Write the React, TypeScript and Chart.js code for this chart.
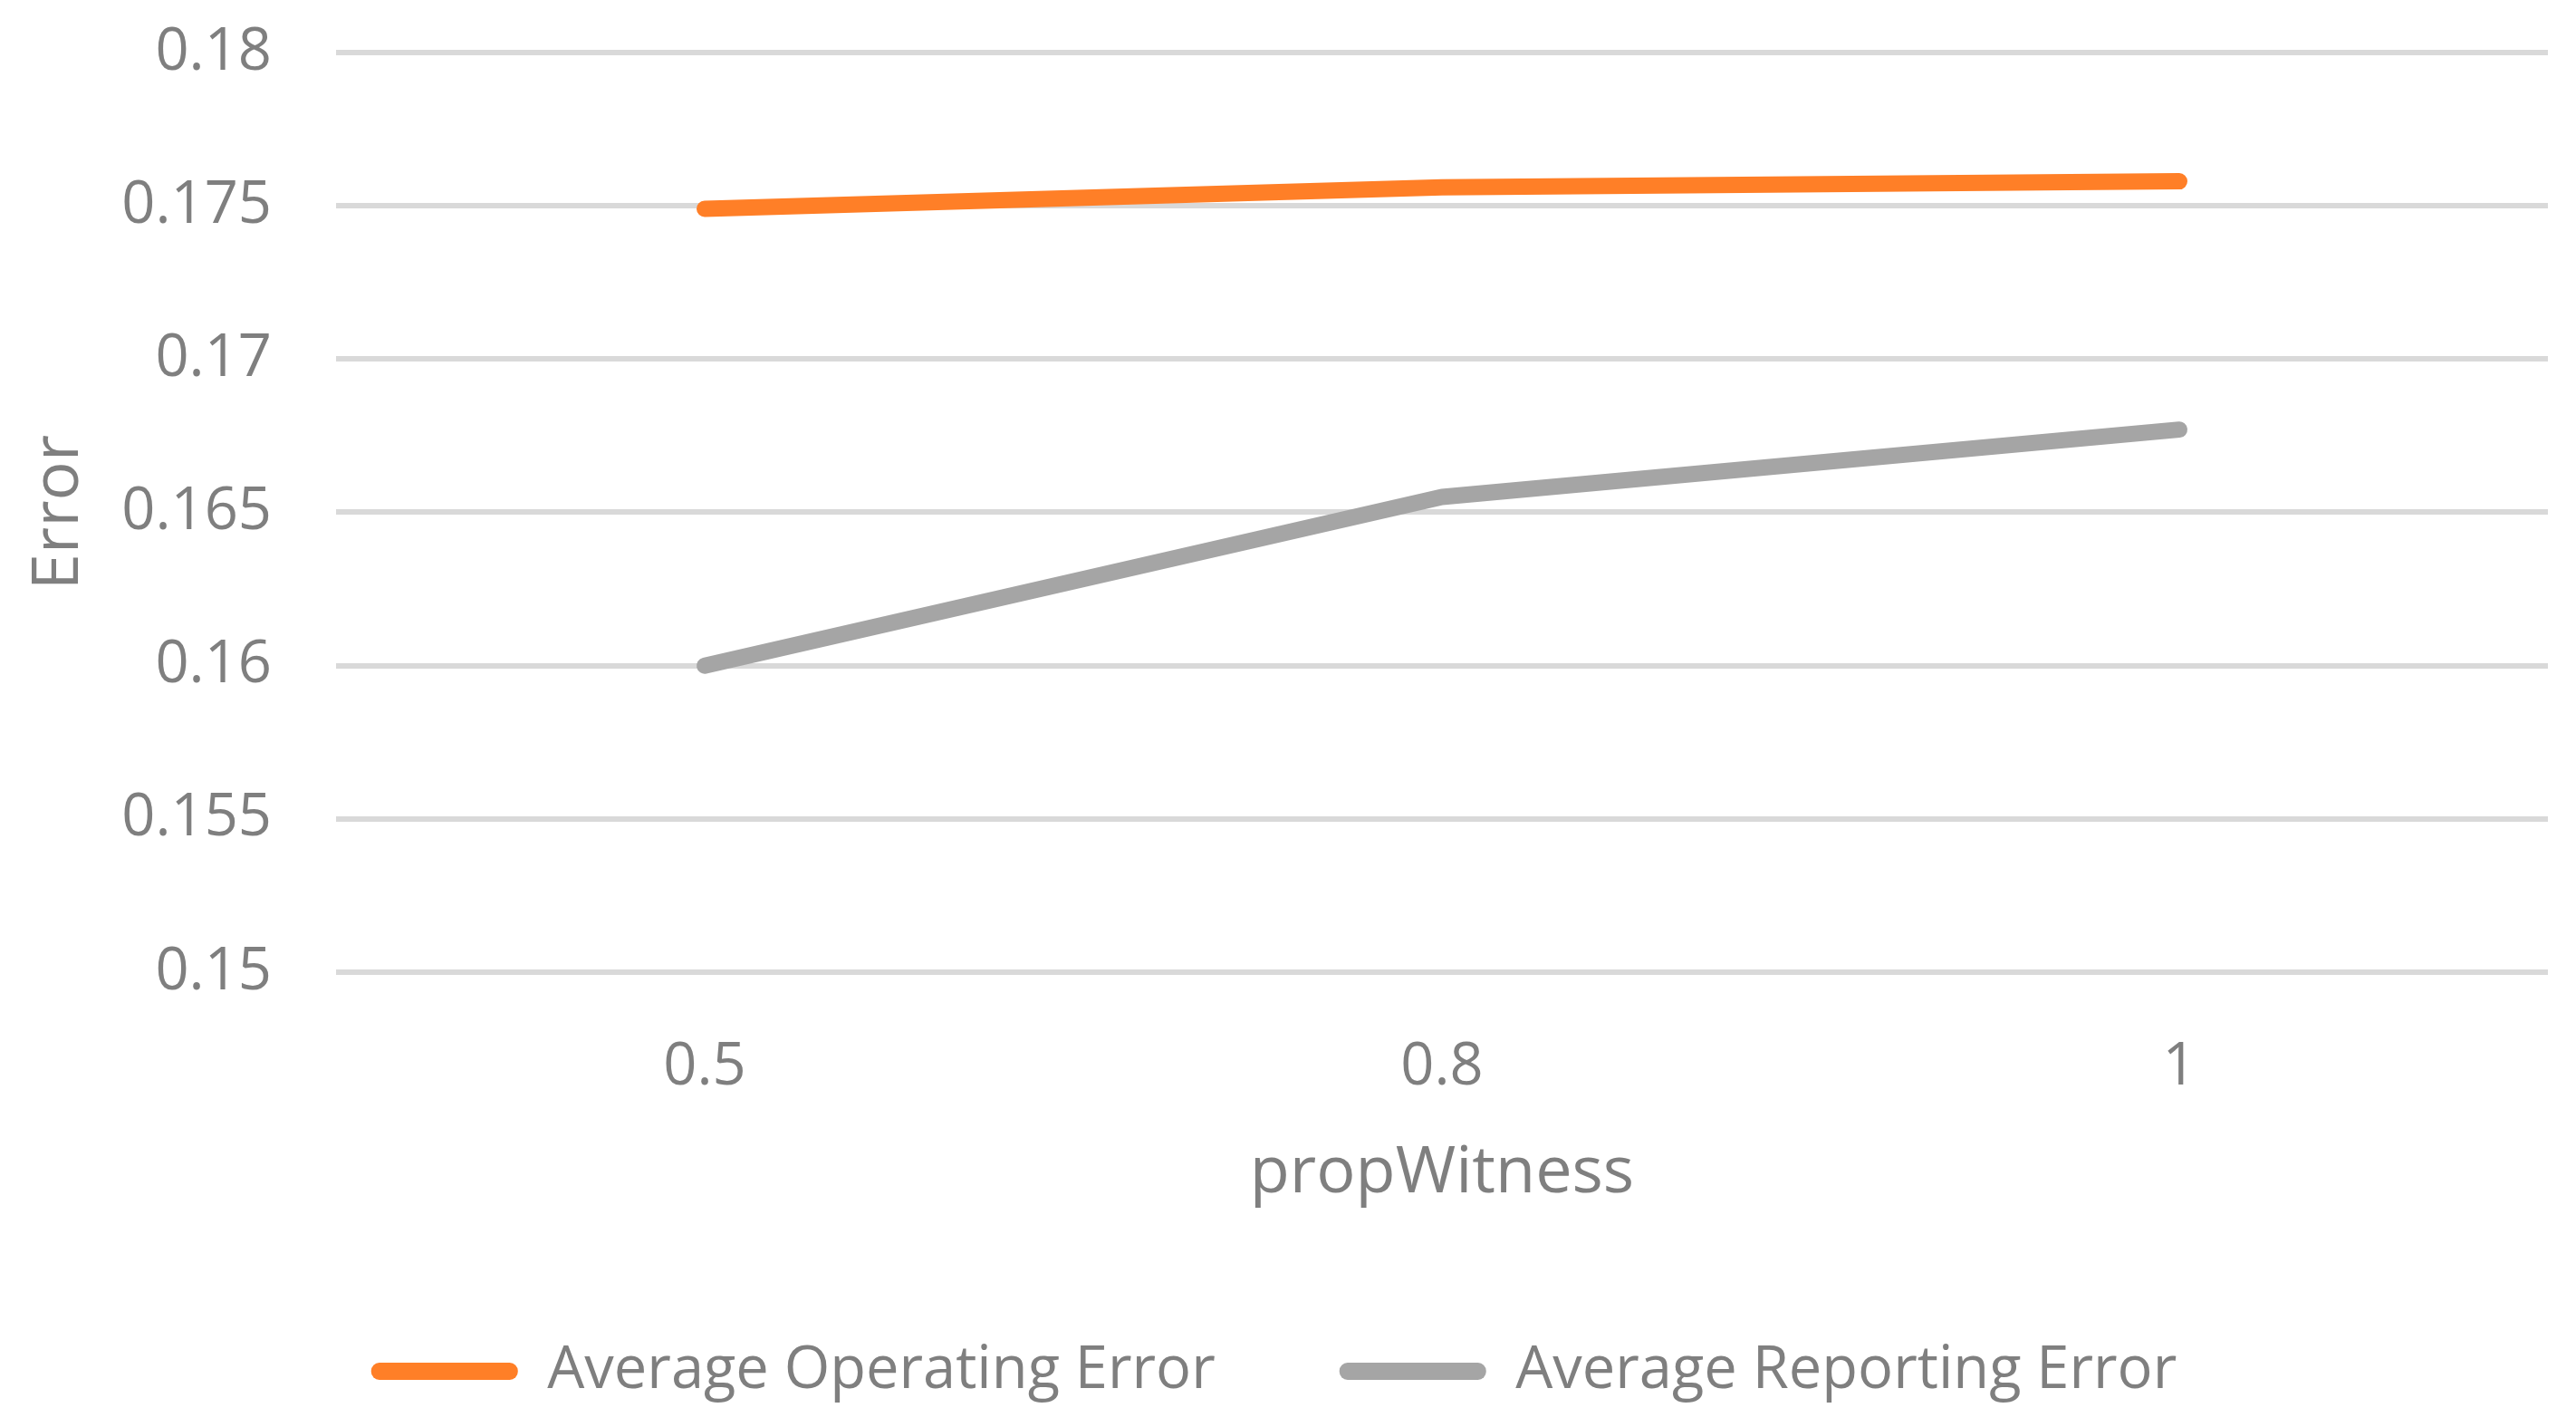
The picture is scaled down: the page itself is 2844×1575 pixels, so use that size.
import React, { useEffect, useRef } from "react";
import { Chart, registerables } from "chart.js";

Chart.register(...registerables);

// ---- data ----
const categories: string[] = ["0.5", "0.8", "1"];
const operatingError: number[] = [0.1749, 0.1756, 0.1758];
const reportingError: number[] = [0.16, 0.1655, 0.1677];
const seriesNames: string[] = ["Average Operating Error", "Average Reporting Error"];
const seriesColors: string[] = ["#FF7F27", "#A5A5A5"];
const yMin = 0.15;
const yMax = 0.18;
const yStep = 0.005;
const xTitle = "propWitness";
const yTitle = "Error";

const TEXT = "#7F7F7F";
const FONT = "'Open Sans'";

export default function App() {
  const ref = useRef<HTMLCanvasElement | null>(null);

  useEffect(() => {
    if (!ref.current) return;
    const chart = new Chart(ref.current, {
      type: "line",
      data: {
        labels: categories,
        datasets: [
          {
            label: seriesNames[0],
            data: operatingError,
            borderColor: seriesColors[0],
            backgroundColor: seriesColors[0],
            borderWidth: 18,
            pointRadius: 0,
            pointHoverRadius: 0,
            tension: 0,
            borderCapStyle: "round",
            borderJoinStyle: "round",
          },
          {
            label: seriesNames[1],
            data: reportingError,
            borderColor: seriesColors[1],
            backgroundColor: seriesColors[1],
            borderWidth: 18,
            pointRadius: 0,
            pointHoverRadius: 0,
            tension: 0,
            borderCapStyle: "round",
            borderJoinStyle: "round",
          },
        ],
      },
      options: {
        responsive: false,
        animation: false,
        devicePixelRatio: 1,
        layout: { padding: { top: 58, right: 31, bottom: 19, left: 0 } },
        plugins: {
          tooltip: { enabled: false },
          title: { display: false },
          legend: {
            display: true,
            position: "bottom",
            align: "center",
            labels: {
              color: TEXT,
              font: { family: FONT, size: 65 },
              boxWidth: 162,
              boxHeight: 19,
              padding: 137,
              useBorderRadius: true,
              borderRadius: 9,
              generateLabels: (c: any) =>
                c.data.datasets.map((ds: any, i: number) => ({
                  text: ds.label,
                  fillStyle: ds.borderColor,
                  strokeStyle: ds.borderColor,
                  lineWidth: 0,
                  hidden: false,
                  datasetIndex: i,
                  fontColor: TEXT,
                  borderRadius: 9,
                })),
            },
          },
        },
        scales: {
          x: {
            type: "category",
            offset: true,
            grid: { display: false, drawTicks: false },
            border: { display: false },
            ticks: {
              color: TEXT,
              font: { family: FONT, size: 65 },
              padding: 66,
            },
            title: {
              display: true,
              text: xTitle,
              color: TEXT,
              font: { family: FONT, size: 72 },
              padding: { top: 0, bottom: 5 },
            },
            afterFit: (s: any) => {
              s.height = 271;
            },
          },
          y: {
            type: "linear",
            min: yMin,
            max: yMax,
            grid: { color: "#D9D9D9", lineWidth: 6, drawTicks: false },
            border: { display: false },
            ticks: {
              stepSize: yStep,
              color: TEXT,
              font: { family: FONT, size: 65 },
              padding: 71,
              callback: (v: any) => Number(v).toFixed(3).replace(/0+$/, ""),
            },
            title: {
              display: true,
              text: yTitle,
              color: TEXT,
              font: { family: FONT, size: 72 },
              padding: { top: 22, bottom: 0 },
            },
            afterFit: (s: any) => {
              s.width = 371;
              s.paddingTop = 0;
              s.paddingBottom = 0;
            },
          },
        },
      },
    });
    return () => chart.destroy();
  }, []);

  return (
    <canvas
      ref={ref}
      width={2844}
      height={1575}
      style={{ position: "absolute", left: 0, top: 0, display: "block", background: "#fff" }}
    />
  );
}
